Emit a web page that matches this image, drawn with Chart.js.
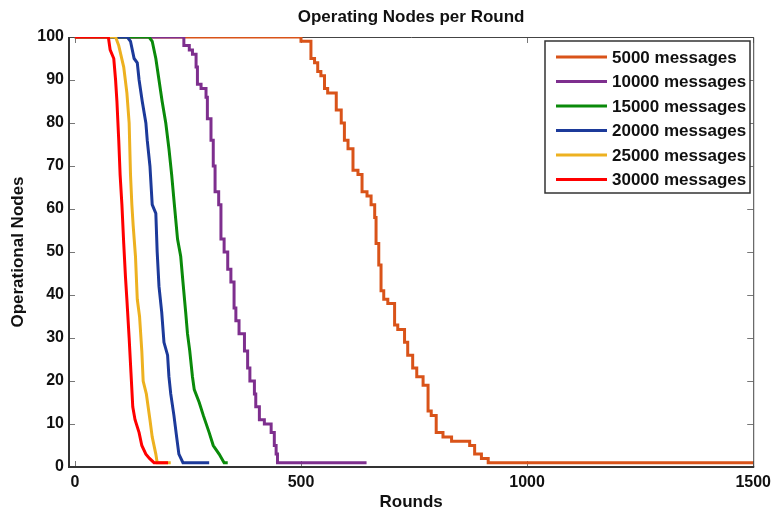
<!DOCTYPE html>
<html lang="en">
<head>
  <meta charset="UTF-8" />
  <title>Operating Nodes per Round</title>
  <script src="https://cdn.jsdelivr.net/npm/chart.js@4.4.1/dist/chart.umd.min.js"></script>
  <style>
    html, body { margin: 0; padding: 0; background: #fff; }
    #wrap { width: 777px; height: 515px; }
  </style>
</head>
<body>
  <div id="wrap"><canvas id="nodesChart" width="777" height="515"></canvas></div>

  <script>
    // tick values
    const xTicks = [0, 500, 1000, 1500];
    const yTicks = [0, 10, 20, 30, 40, 50, 60, 70, 80, 90, 100];

    // series, rounds -> operational nodes
    const labels = ["5000 messages", "10000 messages", "15000 messages", "20000 messages", "25000 messages", "30000 messages"];
    const colors = ["#D95319", "#7E2F8E", "#0A8A0A", "#1C3A9A", "#EDB120", "#FF0000"];
    // the slow series show clear stairs, the fast ones look like jagged slopes
    const stairs = ["after", "after", false, false, false, false];

    const rounds5000 = [0, 500, 522, 530, 537, 544, 552, 559, 578, 589, 596, 604, 615, 626, 635, 646, 655, 663, 666, 672, 677, 683, 692, 707, 714, 729, 736, 747, 756, 770, 781, 788, 799, 814, 833, 862, 873, 884, 899, 914, 936, 1500];
    const nodes5000  = [100, 100, 99, 95, 94, 92, 91, 88, 87, 83, 80, 76, 74, 69, 68, 64, 63, 61, 58, 52, 47, 41, 39, 38, 33, 32, 29, 26, 23, 21, 19, 13, 12, 8, 7, 6, 6, 5, 3, 2, 1, 1];

    const rounds10000 = [0, 241, 253, 260, 268, 271, 279, 290, 293, 301, 306, 310, 318, 323, 330, 338, 345, 352, 356, 363, 375, 382, 387, 397, 400, 408, 419, 434, 441, 445, 448, 454, 645];
    const nodes10000  = [100, 100, 98, 97, 96, 93, 89, 88, 86, 81, 76, 70, 64, 61, 53, 50, 46, 43, 37, 34, 31, 27, 23, 20, 17, 14, 11, 10, 8, 5, 3, 1, 1];

    const rounds15000 = [0, 164, 171, 179, 186, 193, 201, 208, 214, 220, 227, 234, 239, 245, 249, 254, 260, 264, 275, 284, 297, 306, 319, 330, 338];
    const nodes15000  = [100, 100, 99, 95, 90, 85, 80, 74, 68, 61, 53, 49, 43, 36, 31, 27, 21, 18, 15, 12, 8, 5, 3, 1, 1];

    const rounds20000 = [0, 116, 123, 131, 138, 142, 149, 157, 160, 166, 171, 179, 182, 186, 192, 197, 205, 208, 212, 219, 225, 230, 239, 297];
    const nodes20000  = [100, 100, 99, 95, 94, 90, 85, 80, 76, 70, 61, 59, 50, 42, 36, 29, 26, 21, 17, 12, 7, 3, 1, 1];

    const rounds25000 = [0, 90, 97, 108, 115, 120, 123, 126, 129, 134, 138, 143, 148, 151, 158, 166, 171, 179, 182, 212];
    const nodes25000  = [100, 100, 98, 93, 87, 80, 68, 61, 56, 49, 39, 35, 27, 20, 17, 11, 7, 3, 1, 1];

    const rounds30000 = [0, 74, 78, 86, 90, 93, 97, 100, 104, 108, 112, 115, 120, 124, 126, 128, 133, 142, 148, 157, 165, 175, 206];
    const nodes30000  = [100, 100, 97, 95, 90, 85, 76, 68, 61, 52, 44, 39, 30, 22, 18, 14, 11, 8, 5, 3, 2, 1, 1];

    const allRounds = [rounds5000, rounds10000, rounds15000, rounds20000, rounds25000, rounds30000];
    const allNodes = [nodes5000, nodes10000, nodes15000, nodes20000, nodes25000, nodes30000];

    const FONT = "'Liberation Sans', Arial, Helvetica, sans-serif";

    const datasets = labels.map(function (lbl, i) {
      return {
        label: lbl,
        data: allRounds[i].map(function (r, k) { return { x: r, y: allNodes[i][k] }; }),
        borderColor: colors[i],
        backgroundColor: colors[i],
        borderWidth: 3,
        pointRadius: 0,
        stepped: stairs[i],
        tension: 0,
        fill: false,
        order: labels.length - i   // later series drawn on top, like matlab
      };
    });

    // box around the axes + inward tick marks
    const framePlugin = {
      id: "frame",
      beforeDatasetsDraw(chart) {
        const { ctx, chartArea: a, scales } = chart;
        ctx.save();
        ctx.strokeStyle = "#777";
        ctx.lineWidth = 1;
        ctx.beginPath();
        xTicks.forEach(function (v) {
          const px = Math.round(scales.x.getPixelForValue(v)) + 0.5;
          ctx.moveTo(px, a.bottom); ctx.lineTo(px, a.bottom - 6);
          ctx.moveTo(px, a.top); ctx.lineTo(px, a.top + 6);
        });
        yTicks.forEach(function (v) {
          const py = Math.round(scales.y.getPixelForValue(v)) + 0.5;
          ctx.moveTo(a.left, py); ctx.lineTo(a.left + 6, py);
          ctx.moveTo(a.right, py); ctx.lineTo(a.right - 6, py);
        });
        ctx.stroke();

        ctx.strokeStyle = "#444";
        ctx.lineWidth = 1;
        ctx.beginPath();
        ctx.moveTo(a.left, a.top + 0.5); ctx.lineTo(a.right + 0.5, a.top + 0.5);
        ctx.lineTo(a.right + 0.5, a.bottom);
        ctx.stroke();

        ctx.strokeStyle = "#333";
        ctx.lineWidth = 2;
        ctx.beginPath();
        ctx.moveTo(a.left, a.top); ctx.lineTo(a.left, a.bottom);
        ctx.lineTo(a.right + 1, a.bottom);
        ctx.stroke();
        ctx.restore();
      }
    };

    // legend box in the upper right corner
    const boxLegend = {
      id: "boxLegend",
      afterDraw(chart) {
        const ctx = chart.ctx;
        const x0 = 545, y0 = 41, w = 205, h = 152, row = 24.5;
        ctx.save();
        ctx.fillStyle = "#fff";
        ctx.fillRect(x0, y0, w, h);
        ctx.strokeStyle = "#333";
        ctx.lineWidth = 1.5;
        ctx.strokeRect(x0, y0, w, h);
        ctx.font = "bold 17px " + FONT;
        ctx.textBaseline = "middle";
        chart.data.datasets.forEach(function (ds, i) {
          const yy = 57 + i * row;
          ctx.strokeStyle = ds.borderColor;
          ctx.lineWidth = 3;
          ctx.beginPath();
          ctx.moveTo(556, yy); ctx.lineTo(607, yy);
          ctx.stroke();
          ctx.fillStyle = "#111";
          ctx.fillText(ds.label, 612, yy + 1);
        });
        ctx.restore();
      }
    };

    new Chart(document.getElementById("nodesChart"), {
      type: "line",
      data: { datasets: datasets },
      options: {
        responsive: false,
        animation: false,
        layout: { padding: { left: 0, right: 23, top: 0, bottom: 0 } },
        plugins: {
          legend: { display: false },
          tooltip: { enabled: false },
          title: {
            display: true,
            text: "Operating Nodes per Round",
            fullSize: false,
            color: "#111",
            font: { family: FONT, size: 17, weight: "bold" },
            padding: { top: 7, bottom: 9.6 }
          }
        },
        scales: {
          x: {
            type: "linear",
            min: -13,
            max: 1500,
            afterBuildTicks: function (s) { s.ticks = xTicks.map(function (v) { return { value: v }; }); },
            afterFit: function (s) { s.height = 48; },
            grid: { display: false, drawTicks: false },
            border: { display: false },
            ticks: {
              color: "#111",
              padding: 6,
              maxRotation: 0,
              autoSkip: false,
              callback: function (v) { return String(v); },
              font: { family: FONT, size: 16, weight: "bold" }
            },
            title: {
              display: true,
              text: "Rounds",
              color: "#111",
              font: { family: FONT, size: 17, weight: "bold" },
              padding: { top: 0, bottom: 2 }
            }
          },
          y: {
            min: 0,
            max: 100,
            afterBuildTicks: function (s) { s.ticks = yTicks.map(function (v) { return { value: v }; }); },
            afterFit: function (s) { s.width = 69; },
            grid: { display: false, drawTicks: false },
            border: { display: false },
            ticks: {
              color: "#111",
              padding: 5,
              autoSkip: false,
              callback: function (v) { return String(v); },
              font: { family: FONT, size: 16, weight: "bold" }
            },
            title: {
              display: true,
              text: "Operational Nodes",
              color: "#111",
              font: { family: FONT, size: 17, weight: "bold" },
              padding: { top: 8, bottom: 0 }
            }
          }
        }
      },
      plugins: [framePlugin, boxLegend]
    });
  </script>
</body>
</html>
